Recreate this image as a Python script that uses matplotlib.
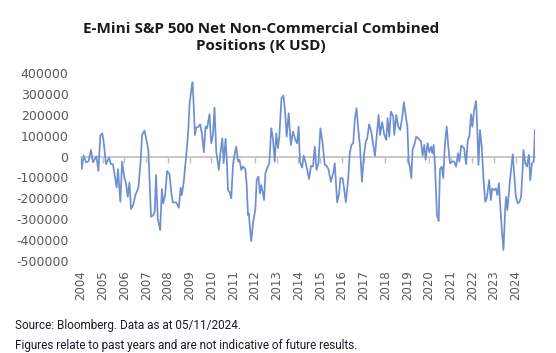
import matplotlib
matplotlib.use("Agg")
import matplotlib.pyplot as plt

# Dates as decimal years, values in K USD
years = [
    2004.00, 2004.03, 2004.12, 2004.23, 2004.34, 2004.46, 2004.55, 2004.71, 2004.80, 2004.89,
    2004.98, 2005.04, 2005.15, 2005.29, 2005.38, 2005.47, 2005.57, 2005.64, 2005.70, 2005.81,
    2005.89, 2006.00, 2006.07, 2006.15, 2006.23, 2006.30, 2006.41, 2006.50, 2006.64, 2006.73,
    2006.81, 2006.92, 2007.04, 2007.10, 2007.22, 2007.33, 2007.39, 2007.45, 2007.53, 2007.64,
    2007.72, 2007.78, 2007.87, 2007.96, 2008.07, 2008.15, 2008.22, 2008.38, 2008.50, 2008.58,
    2008.64, 2008.73, 2008.84, 2008.93, 2008.99, 2009.08, 2009.13, 2009.19, 2009.24, 2009.30,
    2009.41, 2009.48, 2009.56, 2009.65, 2009.73, 2009.80, 2009.91, 2009.99, 2010.07, 2010.14,
    2010.22, 2010.30, 2010.34, 2010.40, 2010.50, 2010.56, 2010.65, 2010.71, 2010.76, 2010.83,
    2010.91, 2010.99, 2011.06, 2011.14, 2011.22, 2011.29, 2011.37, 2011.45, 2011.56, 2011.62,
    2011.68, 2011.72, 2011.77, 2011.83, 2011.92, 2012.02, 2012.08, 2012.16, 2012.23, 2012.29,
    2012.34, 2012.42, 2012.48, 2012.57, 2012.66, 2012.75, 2012.83, 2012.91, 2012.98, 2013.06,
    2013.12, 2013.22, 2013.31, 2013.38, 2013.46, 2013.55, 2013.65, 2013.75, 2013.86, 2013.94,
    2014.01, 2014.07, 2014.17, 2014.24, 2014.34, 2014.49, 2014.58, 2014.67, 2014.75, 2014.83,
    2014.92, 2015.01, 2015.10, 2015.21, 2015.29, 2015.38, 2015.49, 2015.60, 2015.67, 2015.78,
    2015.87, 2015.93, 2016.03, 2016.10, 2016.18, 2016.29, 2016.36, 2016.44, 2016.52, 2016.59,
    2016.67, 2016.75, 2016.83, 2016.92, 2017.01, 2017.10, 2017.16, 2017.25, 2017.35, 2017.44,
    2017.52, 2017.61, 2017.69, 2017.75, 2017.85, 2017.95, 2018.04, 2018.10, 2018.18, 2018.25,
    2018.36, 2018.41, 2018.50, 2018.59, 2018.68, 2018.78, 2018.85, 2018.93, 2019.01, 2019.07,
    2019.13, 2019.19, 2019.25, 2019.33, 2019.42, 2019.51, 2019.64, 2019.71, 2019.79, 2019.85,
    2019.94, 2020.02, 2020.10, 2020.16, 2020.22, 2020.28, 2020.33, 2020.37, 2020.45, 2020.51,
    2020.59, 2020.66, 2020.74, 2020.82, 2020.90, 2020.97, 2021.05, 2021.16, 2021.25, 2021.34,
    2021.40, 2021.49, 2021.62, 2021.71, 2021.79, 2021.86, 2021.94, 2022.00, 2022.08, 2022.17,
    2022.23, 2022.28, 2022.35, 2022.43, 2022.51, 2022.59, 2022.66, 2022.77, 2022.85, 2022.91,
    2023.00, 2023.08, 2023.15, 2023.22, 2023.28, 2023.35, 2023.43, 2023.51, 2023.55, 2023.61,
    2023.71, 2023.78, 2023.86, 2023.92, 2024.00, 2024.09, 2024.17, 2024.24, 2024.31, 2024.35,
    2024.43, 2024.51, 2024.60, 2024.66, 2024.74, 2024.82, 2024.88,
]
positions = [
    -11500, -60000, 4500, -27500, -24000, 32000, -27500, 1000, -69000, 101000,
    112000, 72000, -37000, -5000, -36000, -37000, -104000, -149000, -60000, -217000,
    -24000, -104000, -128000, -193000, -124000, -252000, -229000, -185000, -149000, -40000,
    104000, 125000, 64000, 27000, -289000, -281000, -265000, -88000, -297000, -353000,
    -156000, -225000, -185000, -69000, -85000, -169000, -220000, -220000, -246000, -149000,
    -185000, -117000, 8000, 120000, 248000, 328000, 357000, 232000, 104000, 139000,
    144000, 155000, 112000, 21000, 144000, 136000, 203000, 64000, 104000, 235000,
    24000, -37000, -64000, 8000, 88000, -32000, 85000, -24000, -161000, -169000,
    -201000, -40000, 8000, 48000, -24000, -16000, -64000, -48000, -60000, -137000,
    -281000, -273000, -342000, -406000, -313000, -252000, -113000, -96000, -177000, -137000,
    -161000, -209000, -80000, -53000, -32000, 136000, 85000, -24000, 112000, 40000,
    96000, 280000, 293000, 224000, 96000, 208000, 56000, 120000, 80000, 64000,
    144000, -24000, -53000, 4000, -32000, -108000, -44000, -48000, 48000, -64000,
    -32000, 136000, 75000, -40000, -44000, -61000, -121000, -80000, -32000, -220000,
    -177000, -104000, -104000, -153000, -220000, -104000, 16000, 56000, 64000, 176000,
    232000, 136000, 48000, -121000, 4000, 75000, 85000, 155000, 120000, 56000,
    4000, 112000, 200000, 104000, 165000, 104000, 80000, 184000, 96000, 216000,
    192000, 104000, 200000, 144000, 128000, 192000, 261000, 200000, 144000, -24000,
    -53000, -104000, 32000, 56000, 96000, 88000, 72000, 4000, 56000, -16000,
    64000, 21000, 48000, 16000, 56000, -40000, -169000, -281000, -310000, -60000,
    -48000, -104000, 64000, 144000, 40000, -32000, -24000, -24000, -48000, 16000,
    -24000, 53000, 40000, -37000, 80000, 96000, 203000, 144000, 224000, 267000,
    120000, -40000, 128000, 48000, -104000, -217000, -201000, -113000, -209000, -153000,
    -161000, -153000, -185000, -128000, -233000, -345000, -449000, -249000, -193000, -257000,
    -137000, -61000, 11000, -80000, -193000, -225000, -217000, -193000, -64000, 32000,
    -32000, -48000, 8000, -113000, -32000, -24000, 128000,
]
year_ticks = list(range(2004, 2025))
year_labels = [str(y) for y in year_ticks]
y_ticks = list(range(-500000, 400001, 100000))

title = "E-Mini S&P 500 Net Non-Commercial Combined\nPositions (K USD)"
note1 = "Source: Bloomberg. Data as at 05/11/2024."
note2 = "Figures relate to past years and are not indicative of future results."

label_color = "#595959"
fig = plt.figure(figsize=(5.56, 3.53), dpi=100)
ax = fig.add_axes([81 / 556, 1 - 260.7 / 353, (535 - 81) / 556, (260.7 - 73.3) / 353])

ax.plot(years, positions, color="#6d8fd0", lw=1.25, zorder=3)
ax.set_xlim(2004.0, 2024.88)
ax.set_ylim(-500000, 400000)

for s in ax.spines.values():
    s.set_visible(False)

ax.set_yticks(y_ticks)
ax.set_yticklabels([str(v) for v in y_ticks])
ax.tick_params(axis="y", length=0, pad=9, labelsize=9, labelcolor=label_color)

ax.set_xticks(year_ticks)
ax.set_xticklabels(year_labels, rotation=90)
ax.tick_params(axis="x", length=0, pad=7, labelsize=8.5, labelcolor=label_color)

# category axis crossing at zero with tick marks
sec = ax.secondary_xaxis(0, transform=ax.transData)
sec.set_xticks(year_ticks)
sec.set_xticklabels([""] * len(year_ticks))
sec.tick_params(axis="x", length=4, width=1, color="#bfbfbf", direction="out")
sec.spines["bottom"].set_color("#bfbfbf")
sec.spines["bottom"].set_linewidth(1.2)

fig.text(261 / 556, 1 - 37.5 / 353, title, ha="center", va="center",
         fontsize=11, fontweight="bold", family=["Open Sans", "DejaVu Sans"],
         color="#1a1a1a", linespacing=1.2)

fig.text(15 / 556, 1 - 325 / 353, note1, ha="left", va="center", fontsize=8.5,
         family=["Roboto", "DejaVu Sans"], color="#1a1a2a")
fig.text(15 / 556, 1 - 345 / 353, note2, ha="left", va="center", fontsize=8.5,
         family=["Roboto", "DejaVu Sans"], color="#1a1a2a")

fig.savefig("out.png", dpi=100)
